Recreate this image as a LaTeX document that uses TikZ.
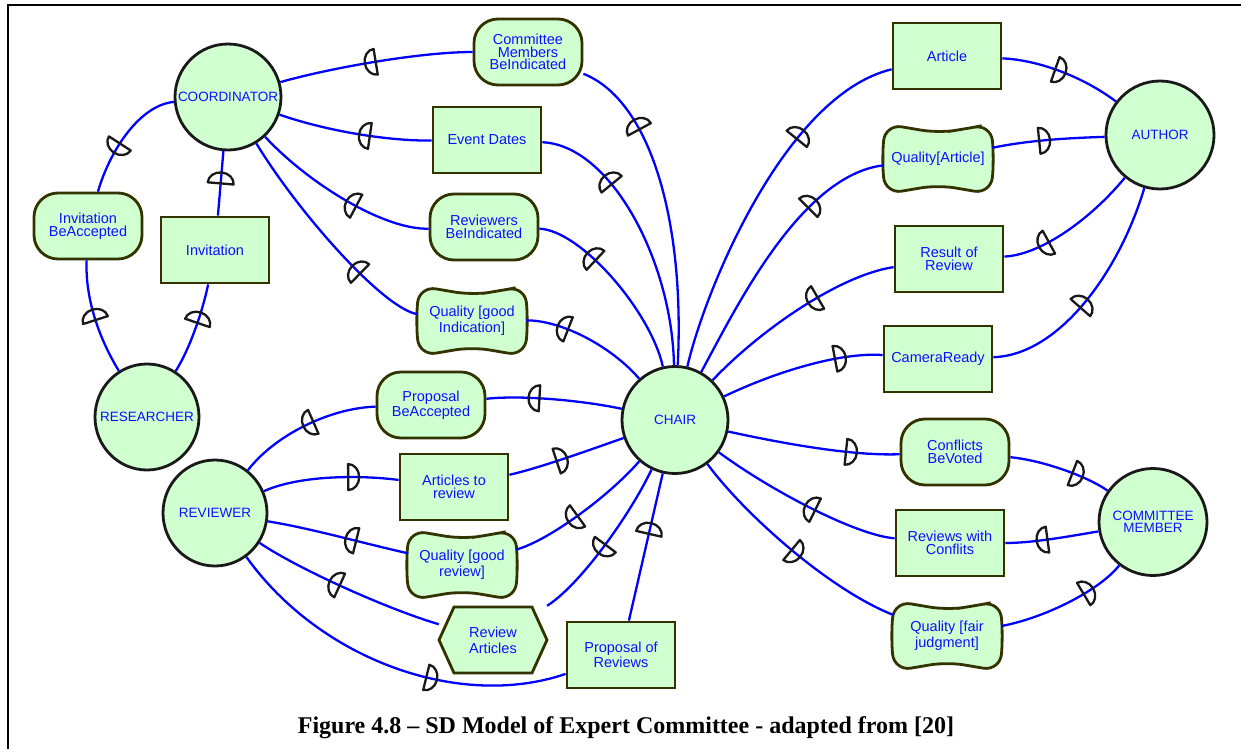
\documentclass[tikz,border=0pt]{standalone}
\usepackage{fontspec}
\setmainfont{Liberation Sans}
\newfontfamily\capfont{Liberation Serif}
\usetikzlibrary{shapes.geometric,decorations.markings}
\definecolor{nfill}{RGB}{208,255,208}
\definecolor{olv}{RGB}{51,51,0}
\definecolor{actb}{RGB}{25,25,25}
\definecolor{tblue}{RGB}{15,15,255}
\definecolor{lblue}{RGB}{0,0,255}
\newcommand\dpfont{\fontsize{14.5}{12.8}\selectfont}
\newcommand\sgfont{\fontsize{14.5}{16}\selectfont}
\newcommand\acfont{\fontsize{13.5}{12}\selectfont}
\newcommand\sgshape[2]{\path[shapestyle,rounded corners=17pt,shift={(#1,#2)}] (27,-30) -- (53,-35) -- (56,0) -- (53,35) -- (0,26) -- (-53,35) -- (-56,0) -- (-53,-35) -- (0,-26) -- cycle;}
\newcommand\tkshape[2]{\path[shapestyle,shift={(#1,#2)}] (-54,0) -- (-39,-33) -- (39,-33) -- (54,0) -- (39,33) -- (-39,33) -- cycle;}
\begin{document}
\begin{tikzpicture}[x=1pt,y=-1pt,
  actor/.style={ellipse, draw=actb, line width=2.8pt, fill=nfill, inner sep=0pt},
  alab/.style={text=tblue, font=\acfont, align=center, inner sep=0pt},
  res/.style={rectangle, draw=olv, line width=2.8pt, fill=nfill, minimum width=108pt, minimum height=66pt, text=tblue, font=\dpfont, align=center, inner sep=1pt},
  goal/.style={res, rounded corners=24pt},
  sgt/.style={rectangle, minimum width=108pt, minimum height=68pt, text=tblue, font=\sgfont, align=center, inner sep=0pt},
  shapestyle/.style={draw=olv, line width=2.8pt, fill=nfill},
  link/.style={draw=lblue, line width=2.3pt},
  dmark/.style={draw=black!90, line width=2.3pt, line join=round},
  dm/.style={postaction={decorate,decoration={markings,mark=at position #1 with {\draw[dmark] (0pt,-13pt) -- (0pt,13pt) arc[start angle=90,end angle=-90,x radius=11pt,y radius=13pt] -- cycle;}}}}
]
\useasboundingbox (0,0) rectangle (1241,749);
\fill[white] (0,0) rectangle (1241,749);
\draw[line width=2pt] (8,749) -- (8,5) -- (1241,5);

% actors
\node[actor, minimum width=106pt, minimum height=106pt, label={[alab]center:COORDINATOR}] (coord) at (228,97) {};
\node[actor, minimum width=104pt, minimum height=106pt, label={[alab]center:RESEARCHER}] (researcher) at (147,417) {};
\node[actor, minimum width=104pt, minimum height=106pt, label={[alab]center:REVIEWER}] (reviewer) at (215,513) {};
\node[actor, minimum width=106pt, minimum height=107pt, label={[alab]center:CHAIR}] (chair) at (675,420) {};
\node[actor, minimum width=108pt, minimum height=108pt, label={[alab]center:AUTHOR}] (author) at (1160,135) {};
\node[actor, minimum width=108pt, minimum height=107pt, label={[alab]center:{COMMITTEE\\MEMBER}}] (cm) at (1153,522) {};

% dependums
\node[goal] (cmb) at (528,52) {Committee\\Members\\BeIndicated};
\node[res] (evd) at (487,140) {Event Dates};
\node[goal] (rbi) at (484,227) {Reviewers\\BeIndicated};
\sgshape{472}{321}
\node[sgt] (qgi) at (472,321) {Quality [good\\Indication]};
\node[goal] (ibacc) at (88,226) {Invitation\\BeAccepted};
\node[res] (inv) at (215,250) {Invitation};
\node[goal] (pba) at (431,405) {Proposal\\BeAccepted};
\node[res] (atr) at (454,487) {Articles to\\review};
\sgshape{462}{565}
\node[sgt] (qgr) at (462,565) {Quality [good\\review]};
\tkshape{493}{640}
\node[sgt] (ra) at (493,640) {Review\\Articles};
\node[res] (por) at (621,655) {Proposal of\\Reviews};
\node[res] (art) at (947,56) {Article};
\sgshape{938}{159}
\node[sgt] (qart) at (938,159) {Quality[Article]};
\node[res] (ror) at (949,259) {Result of\\Review};
\node[res] (cr) at (938,359) {CameraReady};
\node[goal] (cbv) at (955,452) {Conflicts\\BeVoted};
\node[res] (rwc) at (950,543) {Reviews with\\Conflits};
\sgshape{947}{636}
\node[sgt] (qfj) at (947,636) {Quality [fair\\judgment]};

% links: coordinator
\draw[link, dm=0.75] (chair) .. controls (685,220) and (650,100) .. (cmb);
\draw[link, dm=0.5] (cmb) .. controls (420,52) and (330,68) .. (coord);
\draw[link, dm=0.7] (chair) .. controls (672,260) and (610,145) .. (evd);
\draw[link, dm=0.4] (evd) .. controls (390,141) and (330,132) .. (coord);
\draw[link, dm=0.66] (chair) .. controls (650,310) and (580,230) .. (rbi);
\draw[link, dm=0.4] (rbi) .. controls (385,230) and (310,185) .. (coord);
\draw[link, dm=0.67] (chair) .. controls (610,345) and (560,320) .. (qgi);
\draw[link, dm=0.3] (qgi) .. controls (385,310) and (300,215) .. (coord);
% researcher
\draw[link, dm=0.57] (researcher) .. controls (192,345) and (204,305) .. (inv);
\draw[link, dm=0.5] (inv) -- (coord);
\draw[link, dm=0.57] (coord) .. controls (140,105) and (110,150) .. (ibacc);
\draw[link, dm=0.48] (researcher) .. controls (100,340) and (85,300) .. (ibacc);
% reviewer
\draw[link, dm=0.61] (chair) .. controls (580,400) and (520,395) .. (pba);
\draw[link, dm=0.44] (pba) .. controls (330,408) and (275,435) .. (reviewer);
\draw[link, dm=0.63] (reviewer) .. controls (300,475) and (360,475) .. (atr);
\draw[link, dm=0.41] (atr) .. controls (540,468) and (595,448) .. (chair);
\draw[link, dm=0.54] (chair) .. controls (610,495) and (550,540) .. (qgr);
\draw[link, dm=0.37] (qgr) .. controls (370,545) and (310,528) .. (reviewer);
\draw[link, dm=0.51] (chair) .. controls (630,515) and (580,585) .. (ra);
\draw[link, dm=0.54] (ra) .. controls (390,610) and (300,570) .. (reviewer);
\draw[link, dm=0.61] (reviewer) .. controls (320,660) and (460,710) .. (por);
\draw[link, dm=0.59] (por) -- (chair);
% author
\draw[link, dm=0.68] (chair) .. controls (705,290) and (785,95) .. (art);
\draw[link, dm=0.44] (art) .. controls (1040,60) and (1085,78) .. (author);
\draw[link, dm=0.69] (chair) .. controls (735,310) and (800,175) .. (qart);
\draw[link, dm=0.42] (qart) .. controls (1030,140) and (1070,138) .. (author);
\draw[link, dm=0.68] (author) .. controls (1090,220) and (1040,255) .. (ror);
\draw[link, dm=0.38] (ror) .. controls (840,275) and (760,330) .. (chair);
\draw[link, dm=0.71] (chair) .. controls (775,372) and (840,352) .. (cr);
\draw[link, dm=0.43] (cr) .. controls (1060,355) and (1120,270) .. (author);
% committee member
\draw[link, dm=0.69] (chair) .. controls (790,445) and (855,456) .. (cbv);
\draw[link, dm=0.62] (cbv) .. controls (1040,460) and (1085,475) .. (cm);
\draw[link, dm=0.55] (cm) .. controls (1060,538) and (1030,543) .. (rwc);
\draw[link, dm=0.43] (rwc) .. controls (855,535) and (770,490) .. (chair);
\draw[link, dm=0.5] (chair) .. controls (745,515) and (830,590) .. (qfj);
\draw[link, dm=0.66] (qfj) .. controls (1045,618) and (1100,590) .. (cm);

\node[anchor=base, inner sep=0pt, font=\capfont\fontsize{24}{28}\selectfont\bfseries] (cap) at (626,733) {Figure 4.8 – SD Model of Expert Committee - adapted from [20]};
\end{tikzpicture}
\end{document}
